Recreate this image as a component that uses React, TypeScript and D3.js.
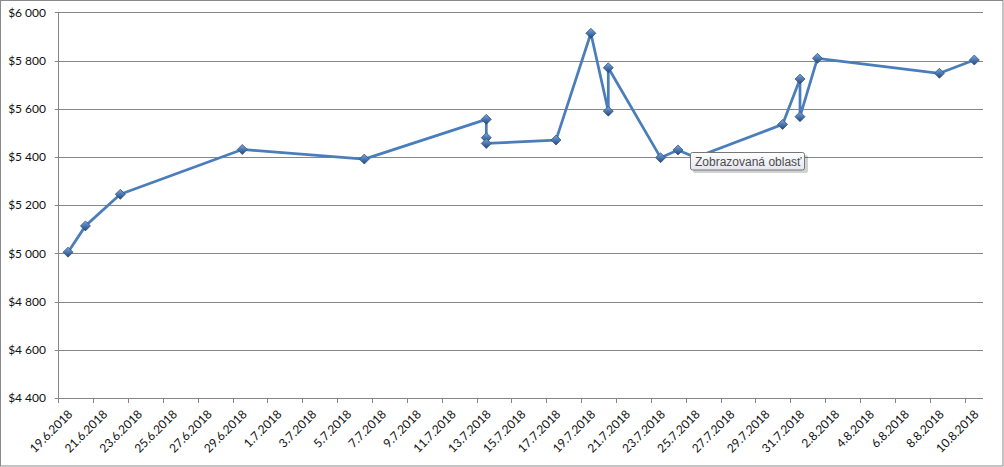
import React from "react";
import * as d3 from "d3";

// ---- data ----
const dates: string[] = [
  "2018-06-19", "2018-06-20", "2018-06-22", "2018-06-29", "2018-07-06",
  "2018-07-13", "2018-07-13", "2018-07-13", "2018-07-17", "2018-07-19",
  "2018-07-20", "2018-07-20", "2018-07-23", "2018-07-24", "2018-07-25",
  "2018-07-30", "2018-07-31", "2018-07-31", "2018-08-01", "2018-08-08",
  "2018-08-10",
];
const values: number[] = [
  5005, 5114, 5245, 5431, 5391,
  5556, 5480, 5456, 5470, 5913,
  5590, 5770, 5397, 5429, 5398,
  5535, 5723, 5567, 5809, 5747,
  5802,
];
const yTicks: number[] = [4400, 4600, 4800, 5000, 5200, 5400, 5600, 5800, 6000];
const axisStart = "2018-06-19";
const axisEnd = "2018-08-11";
const tooltipText = "Zobrazovaná oblasť";

const W = 1004;
const H = 467;

const parse = d3.timeParse("%Y-%m-%d");

export default function App() {
  const x = d3
    .scaleTime()
    .domain([parse(axisStart)!, parse(axisEnd)!])
    .range([59.3, 983]);
  const y = d3.scaleLinear().domain([4400, 6000]).range([398, 12.3]);

  const pts = dates.map((d, i) => ({
    // Excel date axis: points sit in the middle of their day
    x: x(d3.timeHour.offset(parse(d)!, 12)),
    y: y(values[i]),
  }));

  const line = d3
    .line<{ x: number; y: number }>()
    .x((p) => p.x)
    .y((p) => p.y);

  const xTicks = d3.timeDay.range(parse(axisStart)!, parse(axisEnd)!, 2);
  const fmtDate = d3.timeFormat("%-d.%-m.%Y");
  const locale = d3.formatLocale({
    decimal: ",",
    thousands: " ",
    grouping: [3],
    currency: ["$", ""],
  });
  const fmtY = locale.format("$,");

  const x0 = x.range()[0];
  const x1 = x.range()[1];
  const yb = y(4400);

  const diamond = "M0,-5 L5,0 L0,5 L-5,0 Z";

  return (
    <div style={{ position: "fixed", left: 0, top: 0 }}>
      <svg width={W} height={H} style={{ display: "block" }}>
        <defs>
          <linearGradient id="dg" x1="0" y1="0" x2="0" y2="1">
            <stop offset="0" stopColor="#7fa6d8" />
            <stop offset="0.5" stopColor="#4a78b4" />
            <stop offset="1" stopColor="#26466f" />
          </linearGradient>
          <linearGradient id="tg" x1="0" y1="0" x2="0" y2="1">
            <stop offset="0" stopColor="#ffffff" />
            <stop offset="1" stopColor="#e4e5f0" />
          </linearGradient>
        </defs>
        <rect x={0} y={0} width={W} height={H} fill="#fff" />
        <rect x={0.5} y={0.5} width={W - 1.5} height={H - 1.5} fill="none" stroke="#898989" />

        {/* gridlines */}
        {yTicks.map((t) => (
          <line
            key={"g" + t}
            x1={x0 - 4.5}
            x2={x1}
            y1={Math.round(y(t)) + 0.5}
            y2={Math.round(y(t)) + 0.5}
            stroke="#868686"
            strokeWidth={1}
          />
        ))}
        {/* y axis line */}
        <line x1={Math.round(x0) - 0.5} x2={Math.round(x0) - 0.5} y1={y(6000)} y2={yb + 5} stroke="#868686" />
        {/* x ticks */}
        {xTicks.map((t, i) => (
          <line
            key={"xt" + i}
            x1={Math.round(x(t)) - 0.5}
            x2={Math.round(x(t)) - 0.5}
            y1={Math.round(yb)}
            y2={Math.round(yb) + 5}
            stroke="#868686"
          />
        ))}

        {/* y labels */}
        {yTicks.map((t) => (
          <text
            key={"yl" + t}
            x={46}
            y={y(t)}
            dy="0.35em"
            textAnchor="end"
            fontFamily="Lato, 'Noto Sans', sans-serif"
            fontSize={12}
            fill="#111"
          >
            {fmtY(t)}
          </text>
        ))}

        {/* x labels */}
        {xTicks.map((t, i) => (
          <text
            key={"xl" + i}
            transform={`translate(${x(t) + 11},${yb + 14}) rotate(-45)`}
            dy="0.35em"
            textAnchor="end"
            fontFamily="Lato, 'Noto Sans', sans-serif"
            fontSize={12}
            fill="#111"
          >
            {fmtDate(t)}
          </text>
        ))}

        {/* series */}
        <path
          d={line(pts) || ""}
          fill="none"
          stroke="#4a7ebb"
          strokeWidth={2.75}
          strokeLinejoin="round"
          strokeLinecap="round"
        />
        {pts.map((p, i) => (
          <path
            key={"m" + i}
            d={diamond}
            transform={`translate(${p.x},${p.y})`}
            fill="url(#dg)"
            stroke="#2f4f7a"
            strokeWidth={0.75}
          />
        ))}

        {/* tooltip */}
        <g>
          <rect x={693} y={155} width={115} height={18} rx={2} fill="#000" opacity={0.18} />
          <rect x={690.5} y={152.5} width={114} height={17.5} rx={2} fill="url(#tg)" stroke="#767676" />
          <text
            x={695}
            y={165.5}
            fontFamily="'Liberation Sans', Arial, sans-serif"
            fontSize={12}
            fill="#4c4c4c"
          >
            {tooltipText}
          </text>
        </g>
      </svg>
    </div>
  );
}
